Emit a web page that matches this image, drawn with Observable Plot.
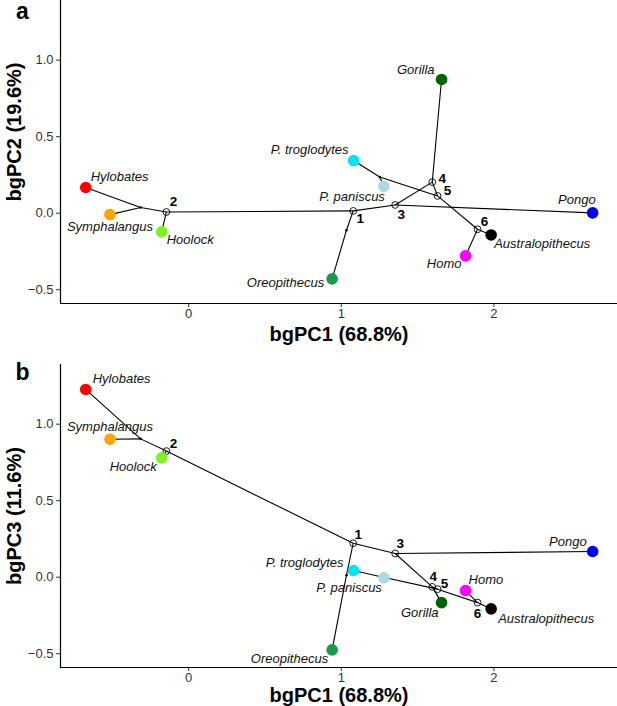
<!DOCTYPE html>
<html>
<head>
<meta charset="utf-8">
<script src="https://cdn.jsdelivr.net/npm/d3@7"></script>
<script src="https://cdn.jsdelivr.net/npm/@observablehq/plot@0.6"></script>
<style>
  html, body { margin: 0; padding: 0; background: #fff; }
  #chart { width: 617px; }
  #chart svg { display: block; }
</style>
</head>
<body>
<div id="chart"></div>
<script>
// ---------- DATA ----------
const tipNames = ["Hylobates", "Symphalangus", "Hoolock", "Oreopithecus", "Pongo", "Gorilla", "P. troglodytes", "P. paniscus", "Homo", "Australopithecus"];
const tipPC1 = [-0.675, -0.516, -0.177, 0.940, 2.647, 1.657, 1.080, 1.279, 1.814, 1.982];
const tipPC2 = [0.168, -0.009, -0.122, -0.429, 0.002, 0.874, 0.344, 0.176, -0.279, -0.142];
const tipPC3 = [1.227, 0.902, 0.780, -0.475, 0.168, -0.166, 0.044, -0.004, -0.087, -0.207];
const tipColors = ["#ff0000", "#ffa500", "#7cf21f", "#189b4c", "#0000ff", "#006400", "#00e5ee", "#add8e6", "#ff00ff", "#000000"];

// internal nodes: numbered ones first, then unnumbered
const nodeNames = ["1", "2", "3", "4", "5", "6", "hyl", "pan", "oreo"];
const nodeNumbered = [true, true, true, true, true, true, false, false, false];
const nodePC1 = [1.078, -0.146, 1.353, 1.596, 1.631, 1.893, -0.315, 1.252, 1.034];
const nodePC2 = [0.015, 0.008, 0.054, 0.203, 0.113, -0.105, 0.037, 0.237, -0.111];
const nodePC3 = [0.222, 0.824, 0.155, -0.063, -0.078, -0.166, 0.904, 0.005, 0.013];

// tree edges (parent -> child)
const edgeFrom = ["2", "2", "hyl", "hyl", "2", "1", "oreo", "1", "3", "3", "4", "4", "5", "pan", "pan", "5", "6", "6"];
const edgeTo   = ["1", "hyl", "Hylobates", "Symphalangus", "Hoolock", "oreo", "Oreopithecus", "3", "Pongo", "4", "Gorilla", "5", "pan", "P. troglodytes", "P. paniscus", "6", "Homo", "Australopithecus"];

const xTicks = [0, 1, 2];
const yTicks = [-0.5, 0, 0.5, 1.0];
const xTitle = "bgPC1 (68.8%)";
const yTitleA = "bgPC2 (19.6%)";
const yTitleB = "bgPC3 (11.6%)";

// ---------- LABEL PLACEMENT (style) ----------
const tipPlaceA = {
  "Hylobates": ["start", 5, -11], "Symphalangus": ["middle", 0, 12], "Hoolock": ["start", 5, 8],
  "Gorilla": ["end", -7, -10], "P. troglodytes": ["end", -5, -11], "P. paniscus": ["end", 1, 11],
  "Pongo": ["end", 3, -13], "Australopithecus": ["start", 3, 9], "Homo": ["end", -4, 8],
  "Oreopithecus": ["end", -8, 4]
};
const nodePlaceA = {"1": [7, 8], "2": [7, -10], "3": [6, 10], "4": [10, -3], "5": [10, -5], "6": [7, -8]};
const tipPlaceB = {
  "Hylobates": ["start", 7, -11], "Symphalangus": ["middle", 0, -12], "Hoolock": ["end", -5, 9],
  "Gorilla": ["end", -3, 10], "P. troglodytes": ["end", -10, -8], "P. paniscus": ["end", -2, 10],
  "Pongo": ["end", -6, -10], "Australopithecus": ["start", 7, 10], "Homo": ["start", 3, -11],
  "Oreopithecus": ["end", -4, 9]
};
const nodePlaceB = {"1": [5, -9], "2": [7, -7], "3": [5, -10], "4": [1, -10], "5": [7, -5], "6": [0, 11]};

const FONT = "'Liberation Sans', Arial, Helvetica, sans-serif";
const xDomain = [-0.84, 2.81];
const yDomain = [-0.59, 1.39];

function panel({tipY, nodeY, yTitle, letter, tipPlace, nodePlace, height, marginTop, marginBottom, xTitleDy, yTitleShift, letterDy}) {
  const pos = new Map();
  tipNames.forEach((n, i) => pos.set(n, [tipPC1[i], tipY[i]]));
  nodeNames.forEach((n, i) => pos.set(n, [nodePC1[i], nodeY[i]]));
  const edges = edgeFrom.map((f, i) => {
    const a = pos.get(f), b = pos.get(edgeTo[i]);
    return {x1: a[0], y1: a[1], x2: b[0], y2: b[1]};
  });
  const tips = tipNames.map((n, i) => ({name: n, x: tipPC1[i], y: tipY[i], color: tipColors[i]}));
  const nodes = nodeNames.map((n, i) => ({name: n, x: nodePC1[i], y: nodeY[i], numbered: nodeNumbered[i]}));

  const tipLabels = tips.map(t => Plot.text([t], {
    x: "x", y: "y", text: "name", textAnchor: tipPlace[t.name][0], lineAnchor: "middle",
    dx: tipPlace[t.name][1], dy: tipPlace[t.name][2],
    fontStyle: "italic", fontSize: 13, fill: "#111"
  }));
  const nodeLabels = nodes.filter(d => d.numbered).map(d => Plot.text([d], {
    x: "x", y: "y", text: "name", textAnchor: "middle", lineAnchor: "middle",
    dx: nodePlace[d.name][0], dy: nodePlace[d.name][1],
    fontWeight: "bold", fontSize: 13.5, fill: "#000"
  }));

  return Plot.plot({
    width: 617,
    height,
    marginLeft: 60,
    marginRight: 0,
    marginTop,
    marginBottom,
    style: {fontFamily: FONT, background: "#fff", overflow: "visible"},
    x: {domain: xDomain, ticks: xTicks, tickFormat: d3.format("d"), label: null},
    y: {domain: yDomain, ticks: yTicks, tickFormat: d3.format(".1f"), label: null},
    color: {type: "identity"},
    marks: [
      Plot.axisX({ticks: xTicks, tickFormat: d3.format("d"), tickSize: 4, tickPadding: 1, fontSize: 13, color: "#333", label: null}),
      Plot.axisY({ticks: yTicks, tickFormat: d3.format(".1f"), tickSize: 4, tickPadding: 3, fontSize: 13, color: "#333", label: null}),
      Plot.ruleX([xDomain[0]], {stroke: "#000", strokeWidth: 1.2}),
      Plot.ruleY([yDomain[0]], {stroke: "#000", strokeWidth: 1.2}),
      Plot.link(edges, {x1: "x1", y1: "y1", x2: "x2", y2: "y2", stroke: "#000", strokeWidth: 1.1}),
      Plot.dot(nodes.filter(d => !d.numbered), {x: "x", y: "y", r: 1.3, fill: "#000"}),
      Plot.dot(nodes.filter(d => d.numbered), {x: "x", y: "y", r: 3.4, stroke: "#000", strokeWidth: 0.9, fill: "none"}),
      Plot.dot(tips, {x: "x", y: "y", r: 5.8, fill: "color", stroke: "none"}),
      ...tipLabels,
      ...nodeLabels,
      Plot.text([xTitle], {frameAnchor: "bottom", text: d => d, textAnchor: "middle", lineAnchor: "middle", dy: xTitleDy, fontSize: 20, fontWeight: "bold", fill: "#000"}),
      Plot.text([yTitle], {frameAnchor: "left", text: d => d, textAnchor: "middle", lineAnchor: "middle", rotate: -90, dx: -46, dy: yTitleShift, fontSize: 20, fontWeight: "bold", fill: "#000"}),
      Plot.text([letter], {frameAnchor: "top-left", text: d => d, textAnchor: "middle", lineAnchor: "middle", dx: -38, dy: letterDy, fontSize: 23, fontWeight: "bold", fill: "#000"})
    ]
  });
}

const chart = document.getElementById("chart");
chart.appendChild(panel({
  tipY: tipPC2, nodeY: nodePC2, yTitle: yTitleA, letter: "a",
  tipPlace: tipPlaceA, nodePlace: nodePlaceA,
  height: 340, marginTop: 0, marginBottom: 37, xTitleDy: 31, yTitleShift: -20, letterDy: 11
}));
chart.appendChild(panel({
  tipY: tipPC3, nodeY: nodePC3, yTitle: yTitleB, letter: "b",
  tipPlace: tipPlaceB, nodePlace: nodePlaceB,
  height: 366, marginTop: 24, marginBottom: 39, xTitleDy: 28, yTitleShift: 0, letterDy: 8
}));
</script>
</body>
</html>
